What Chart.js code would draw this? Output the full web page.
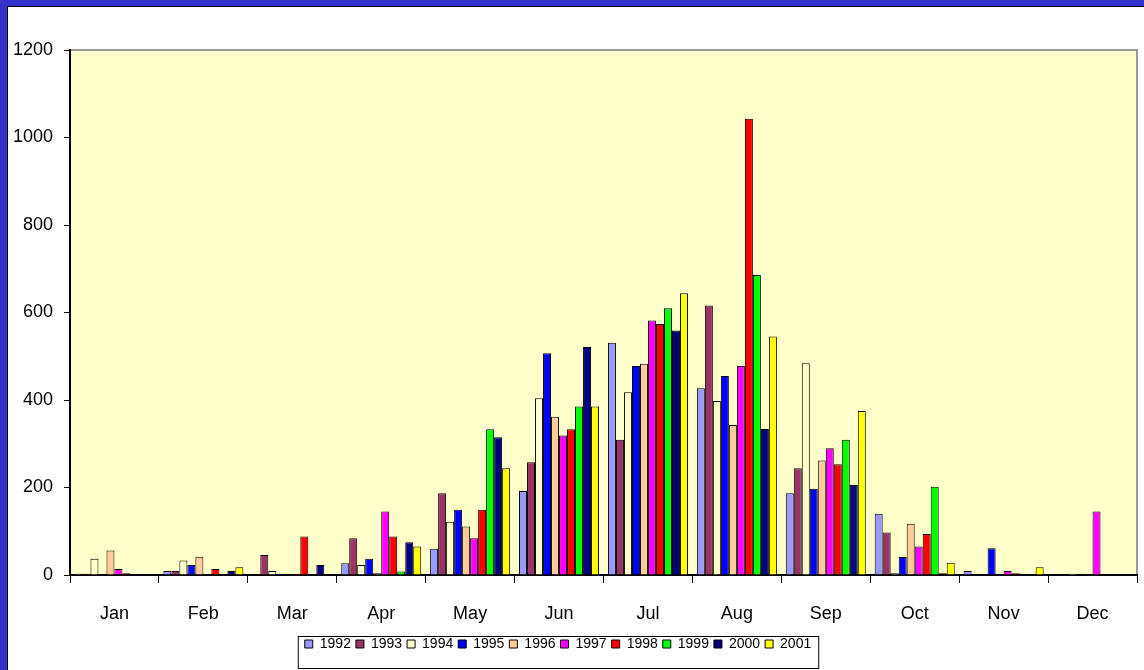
<!DOCTYPE html>
<html>
<head>
<meta charset="utf-8">
<script src="https://cdn.jsdelivr.net/npm/chart.js@4.4.0/dist/chart.umd.min.js"></script>
<style>
  html, body { margin: 0; padding: 0; background: #fff; }
  #grafico { display: block; }
</style>
</head>
<body>
<canvas id="grafico" width="1144" height="670"></canvas>
<script>
// dados
const meses = ["Jan", "Feb", "Mar", "Apr", "May", "Jun", "Jul", "Aug", "Sep", "Oct", "Nov", "Dec"];
const anos = ["1992", "1993", "1994", "1995", "1996", "1997", "1998", "1999", "2000", "2001"];

const v1992 = [3, 9, 0, 27, 60, 192, 531, 427, 187, 140, 9, 0];
const v1993 = [3, 9, 46, 84, 187, 258, 309, 616, 244, 97, 0, 0];
const v1994 = [37, 33, 9, 23, 122, 404, 418, 398, 484, 4, 0, 3];
const v1995 = [0, 23, 3, 37, 149, 507, 478, 455, 197, 41, 61, 3];
const v1996 = [56, 42, 0, 4, 111, 362, 483, 343, 262, 117, 0, 0];
const v1997 = [14, 0, 3, 145, 84, 319, 582, 478, 290, 65, 9, 145];
const v1998 = [4, 14, 88, 88, 149, 333, 574, 1043, 253, 94, 4, 0];
const v1999 = [0, 0, 0, 8, 333, 385, 610, 686, 309, 202, 0, 0];
const v2000 = [0, 9, 23, 75, 315, 521, 559, 334, 206, 4, 0, 0];
const v2001 = [0, 18, 0, 65, 244, 385, 644, 545, 375, 28, 18, 0];

const valores = [v1992, v1993, v1994, v1995, v1996, v1997, v1998, v1999, v2000, v2001];
const cores = ["#9999ff", "#993366", "#ffffcc", "#0000ff", "#ffcc99", "#ff00ff", "#ff0000", "#00ff00", "#000080", "#ffff00"];

const fonte = "Arial, 'Liberation Sans', sans-serif";

// fundo azul, painel branco e area amarela
const fundo = {
  id: "fundo",
  beforeDraw(chart) {
    const ctx = chart.ctx;
    const a = chart.chartArea;
    ctx.save();
    ctx.fillStyle = "#3333cc";
    ctx.fillRect(0, 0, chart.width, chart.height);
    ctx.fillStyle = "#000";
    ctx.fillRect(7, 6, chart.width, chart.height);
    ctx.fillStyle = "#fff";
    ctx.fillRect(8, 7, chart.width, chart.height);
    ctx.fillStyle = "#ffffcc";
    ctx.fillRect(a.left, a.top, a.right - a.left, a.bottom - a.top);
    ctx.strokeStyle = "#999";
    ctx.lineWidth = 2;
    ctx.beginPath();
    ctx.moveTo(a.left, a.top);
    ctx.lineTo(a.right, a.top);
    ctx.lineTo(a.right, a.bottom);
    ctx.stroke();
    ctx.restore();
  }
};

// legenda centrada com moldura
const legendaCaixa = {
  id: "legendaCaixa",
  beforeDraw(chart) {
    const lg = chart.legend;
    const pad = lg.options.labels.padding;
    const span = lg.lineWidths[0] - pad;
    const x0 = 558 - span / 2;
    lg.left = x0 - pad;
    lg.top = 637 - pad;
    lg._caixa = { x: x0 - 7, y: 636, w: span + 14, h: 32 };
  },
  afterDraw(chart) {
    const c = chart.legend._caixa;
    if (!c) return;
    const ctx = chart.ctx;
    ctx.save();
    ctx.strokeStyle = "#000";
    ctx.lineWidth = 1;
    ctx.strokeRect(c.x + 0.5, c.y + 0.5, c.w, c.h);
    ctx.restore();
  }
};

new Chart(document.getElementById("grafico"), {
  type: "bar",
  data: {
    labels: meses,
    datasets: anos.map((ano, i) => ({
      label: ano,
      data: valores[i],
      backgroundColor: cores[i],
      borderColor: "#000",
      borderWidth: 1,
      categoryPercentage: 0.9,
      barPercentage: 1
    }))
  },
  options: {
    responsive: false,
    animation: false,
    devicePixelRatio: 1,
    events: [],
    layout: { padding: { left: 0, top: 50, right: 7, bottom: 0 } },
    plugins: {
      tooltip: { enabled: false },
      legend: {
        position: "bottom",
        align: "start",
        labels: {
          boxWidth: 8,
          boxHeight: 8,
          padding: 5,
          color: "#000",
          font: { family: fonte, size: 14 }
        }
      }
    },
    scales: {
      x: {
        z: 1,
        grid: { display: true, offset: true, drawOnChartArea: false, tickLength: 8, color: "#000", lineWidth: 1 },
        border: { display: true, color: "#000", width: 2 },
        ticks: { color: "#000", padding: 20, font: { family: fonte, size: 18 } },
        afterFit(s) { s.height = 95 - s.chart.legend.height; }
      },
      y: {
        z: 1,
        min: 0,
        max: 1200,
        grid: { display: true, drawOnChartArea: false, tickLength: 6, color: "#000", lineWidth: 1 },
        border: { display: true, color: "#000", width: 2 },
        ticks: {
          stepSize: 200,
          color: "#000",
          padding: 11,
          font: { family: fonte, size: 18 },
          callback: (v) => String(v)
        },
        afterFit(s) { s.width = 70; }
      }
    }
  },
  plugins: [fundo, legendaCaixa]
});
</script>
</body>
</html>
